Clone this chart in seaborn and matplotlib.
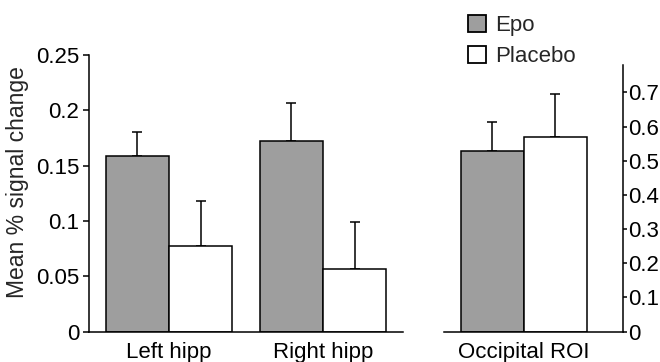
import numpy as np
import pandas as pd
import seaborn as sns
import matplotlib.pyplot as plt
from matplotlib.ticker import FixedLocator, FixedFormatter

# values
regions = ["Left hipp", "Right hipp"]
epo_mean = [0.159, 0.172]
epo_sem = [0.021, 0.035]
placebo_mean = [0.0776, 0.0568]
placebo_sem = [0.040, 0.042]

occ_region = ["Occipital ROI"]
occ_epo_mean = [0.529]
occ_epo_sem = [0.085]
occ_placebo_mean = [0.568]
occ_placebo_sem = [0.127]

conditions = ["Epo", "Placebo"]
left_ticks = [0, 0.05, 0.1, 0.15, 0.2, 0.25]
left_ticklabels = ["0", "0.05", "0.1", "0.15", "0.2", "0.25"]
right_ticks = [0, 0.1, 0.2, 0.3, 0.4, 0.5, 0.6, 0.7]
right_ticklabels = ["0", "0.1", "0.2", "0.3", "0.4", "0.5", "0.6", "0.7"]

sns.set_theme(style="ticks")
plt.rcParams["font.family"] = ["Liberation Sans", "DejaVu Sans"]
plt.rcParams["axes.linewidth"] = 1.1

palette = {"Epo": "#9e9e9e", "Placebo": "white"}
FS = 16

hipp = pd.DataFrame({
    "region": regions * 2,
    "condition": ["Epo"] * 2 + ["Placebo"] * 2,
    "mean": epo_mean + placebo_mean,
})
occ = pd.DataFrame({
    "region": occ_region * 2,
    "condition": conditions,
    "mean": occ_epo_mean + occ_placebo_mean,
})

fig = plt.figure(figsize=(6.6, 3.62), dpi=100)
W, H = 660, 362
ax1 = fig.add_axes([89 / W, (H - 331.5) / H, (403 - 89) / W, (331.5 - 55) / H])
ax2 = fig.add_axes([444 / W, (H - 331.5) / H, (622.5 - 444) / W, (331.5 - 65) / H])


def draw(ax, df, sems):
    sns.barplot(data=df, x="region", y="mean", hue="condition",
                hue_order=conditions, palette=palette, width=0.82,
                edgecolor="black", linewidth=1.1, errorbar=None, ax=ax)
    for cont, err in zip(ax.containers, sems):
        xs = [p.get_x() + p.get_width() / 2 for p in cont.patches]
        ys = [p.get_height() for p in cont.patches]
        ax.errorbar(xs, ys, yerr=[np.zeros(len(err)), err], fmt="none",
                    ecolor="black", elinewidth=1.1, capsize=3.5,
                    capthick=1.1, zorder=0.5)


draw(ax1, hipp, [epo_sem, placebo_sem])
draw(ax2, occ, [occ_epo_sem, occ_placebo_sem])

handles, labels = ax1.get_legend_handles_labels()
ax1.get_legend().remove()
if ax2.get_legend() is not None:
    ax2.get_legend().remove()

# left panel
ax1.set_xlim(-0.52, 1.52)
ax1.set_ylim(0, 0.25)
ax1.yaxis.set_major_locator(FixedLocator(left_ticks))
ax1.yaxis.set_major_formatter(FixedFormatter(left_ticklabels))
ax1.set_xlabel("")
ax1.set_ylabel("Mean % signal change", fontsize=FS + 0.5)
ax1.yaxis.set_label_coords(-0.19, 0.54)
ax1.tick_params(axis="y", labelsize=FS, length=4, width=1.1, pad=3, colors="black")
ax1.tick_params(axis="x", labelsize=FS, length=0, pad=7.5, colors="black")
sns.despine(ax=ax1)

# right panel
ax2.set_xlim(-0.518, 0.642)
ax2.set_ylim(0, 0.78)
ax2.yaxis.tick_right()
ax2.yaxis.set_major_locator(FixedLocator(right_ticks))
ax2.yaxis.set_major_formatter(FixedFormatter(right_ticklabels))
ax2.set_xlabel("")
ax2.set_ylabel("")
ax2.tick_params(axis="y", labelsize=FS, length=3, width=1.1, pad=1, colors="black")
ax2.tick_params(axis="x", labelsize=FS, length=0, pad=7.5, colors="black")
ax2.spines["left"].set_visible(False)
ax2.spines["top"].set_visible(False)

for ax in (ax1, ax2):
    for s in ax.spines.values():
        s.set_color("black")

leg = fig.legend(handles, labels, loc="upper left",
                 bbox_to_anchor=(468 / W, 1 - 15 / H), frameon=False,
                 fontsize=FS, handlelength=0.81, handleheight=0.81,
                 handletextpad=0.4, labelspacing=0.42, borderpad=0,
                 borderaxespad=0)
for p in leg.get_patches():
    p.set_edgecolor("black")
    p.set_linewidth(1.3)

fig.savefig("out.png", dpi=100)
